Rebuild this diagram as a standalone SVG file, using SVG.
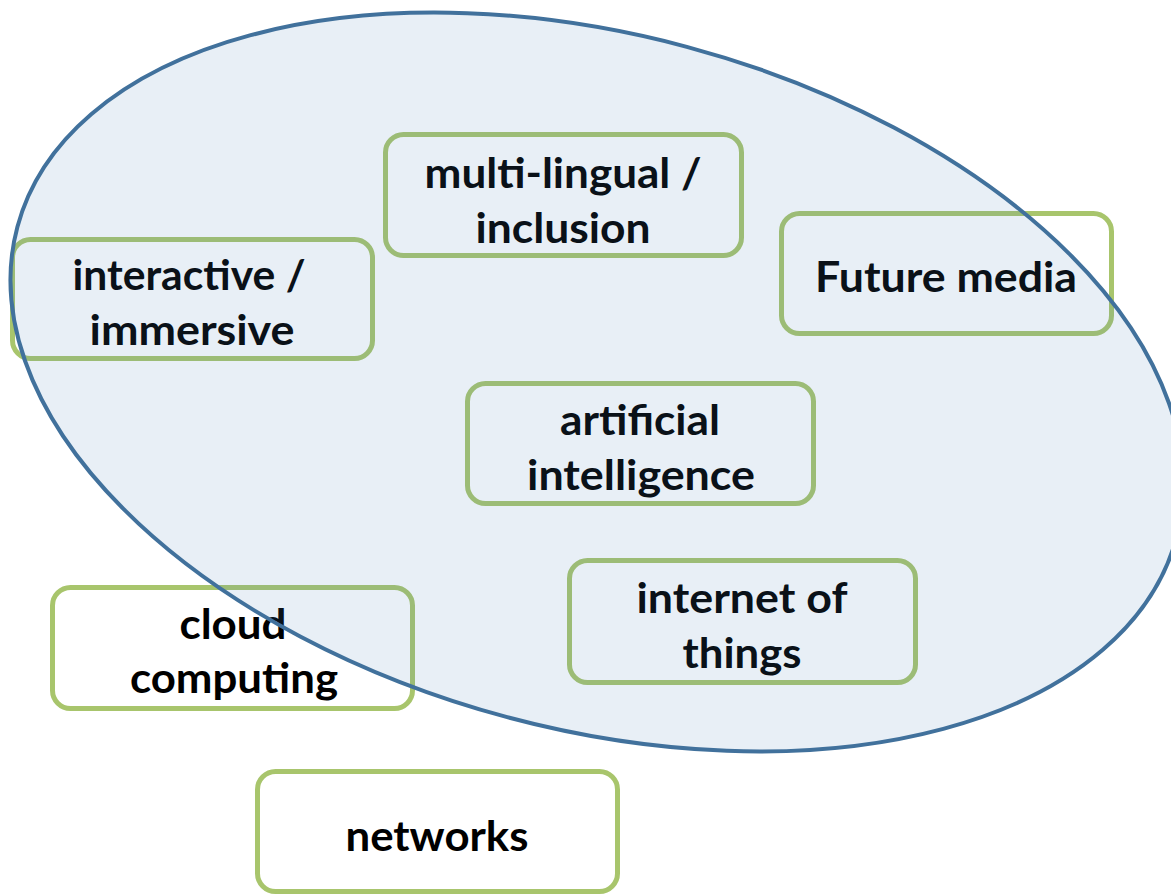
<svg xmlns="http://www.w3.org/2000/svg" width="1171" height="894" viewBox="0 0 1171 894">
<style>
.box{fill:#ffffff;stroke:#a8c56c;stroke-width:5}
.lbl{font-family:Lato,"Open Sans","Liberation Sans",sans-serif;font-weight:bold;font-size:42px;fill:#000000;text-anchor:middle}
.region{fill:#4f81bd;fill-opacity:0.13;stroke:#41719c;stroke-width:4}
</style>
<rect x="0" y="0" width="1171" height="894" fill="#ffffff"/>
<g id="node-multilingual">
<rect class="box" x="385.5" y="134.5" width="356" height="121" rx="18"/>
<text class="lbl" x="563" y="188" textLength="277" lengthAdjust="spacingAndGlyphs">multi-lingual /</text>
<text class="lbl" x="563" y="243" textLength="175" lengthAdjust="spacingAndGlyphs">inclusion</text>
</g>
<g id="node-interactive">
<rect class="box" x="12.5" y="239.5" width="360" height="119" rx="18"/>
<text class="lbl" x="189" y="290" textLength="233" lengthAdjust="spacingAndGlyphs">interactive /</text>
<text class="lbl" x="192" y="345" textLength="205" lengthAdjust="spacingAndGlyphs">immersive</text>
</g>
<g id="node-future-media">
<rect class="box" x="781.5" y="213.5" width="330" height="120" rx="18"/>
<text class="lbl" x="946" y="292" textLength="262" lengthAdjust="spacingAndGlyphs">Future media</text>
</g>
<g id="node-ai">
<rect class="box" x="467.5" y="383.5" width="346" height="120" rx="18"/>
<text class="lbl" x="640" y="435" textLength="160" lengthAdjust="spacingAndGlyphs">artificial</text>
<text class="lbl" x="641" y="490" textLength="228" lengthAdjust="spacingAndGlyphs">intelligence</text>
</g>
<g id="node-iot">
<rect class="box" x="569.5" y="560.5" width="346" height="122" rx="18"/>
<text class="lbl" x="742" y="613" textLength="211" lengthAdjust="spacingAndGlyphs">internet of</text>
<text class="lbl" x="742" y="668" textLength="119" lengthAdjust="spacingAndGlyphs">things</text>
</g>
<g id="node-cloud">
<rect class="box" x="52.5" y="587.5" width="360" height="121" rx="18"/>
<text class="lbl" x="233" y="639" textLength="107" lengthAdjust="spacingAndGlyphs">cloud</text>
<text class="lbl" x="234" y="693" textLength="208" lengthAdjust="spacingAndGlyphs">computing</text>
</g>
<g id="node-networks">
<rect class="box" x="257.5" y="771.5" width="360" height="120" rx="18"/>
<text class="lbl" x="437" y="851" textLength="183" lengthAdjust="spacingAndGlyphs">networks</text>
</g>
<g id="region">
<ellipse class="region" cx="597" cy="382" rx="600" ry="347" transform="rotate(15 597 382)"/>
</g>
<g id="connectors"></g>
</svg>
